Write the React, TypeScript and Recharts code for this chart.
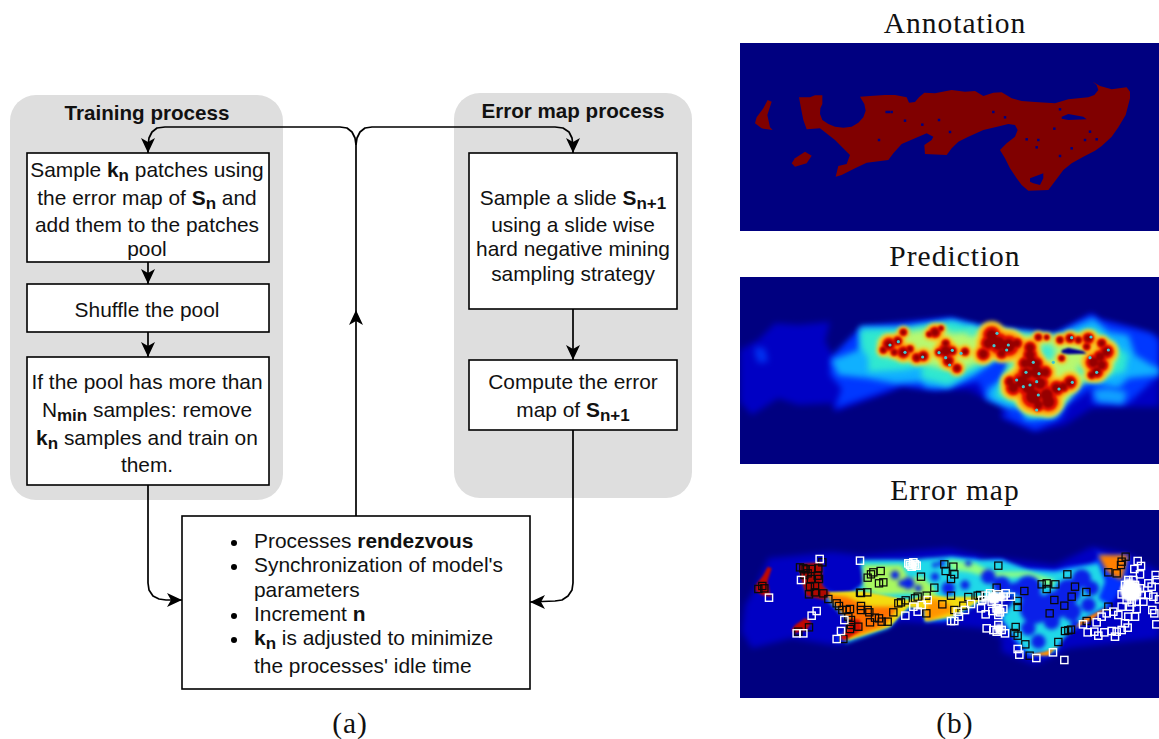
import React from "react";
import { ComposedChart, Scatter, XAxis, YAxis } from "recharts";

type P = number[];
// ---------- picture frames: the crop coordinates the estimates were read in
const toMap = (oy: number) => (pts: P[]) => pts.map(([a, b, r]) => ({ x: 735 + a / 3, y: oy + b / 3, r: (r || 0) / 3 }));
const map1 = toMap(40);
const map2 = toMap(275);
const map3 = toMap(505);

// ---------- flow chart
const panels = [[10, 95, 283, 500], [454, 93, 692, 498]];
const boxes = [
  [27, 153, 269, 262], [27, 284, 269, 332], [27, 357, 269, 485],
  [469, 153, 677, 309], [469, 360, 677, 430], [182, 516, 530, 689],
];
const mapFrames = [[740, 43, 1159, 231], [740, 277, 1159, 464], [740, 510, 1159, 698]];
const wires: P[][] = [
  [[148, 262], [148, 284]],
  [[148, 332], [148, 357]],
  [[573, 309], [573, 360]],
  [[356, 516], [356, 145], [355, 138], [352, 132], [347, 128], [340, 127], [165, 127], [157, 128], [152, 132], [149, 138], [148, 146], [148, 153]],
  [[356, 145], [357, 138], [360, 132], [365, 128], [372, 127], [555, 127], [563, 128], [569, 132], [572, 138], [573, 146], [573, 153]],
  [[148, 485], [148, 583], [149, 590], [153, 596], [159, 599], [166, 600], [182, 600]],
  [[573, 430], [573, 583], [572, 590], [568, 596], [562, 600], [555, 601], [530, 602]],
];
const arrowTips = [
  { x: 148, y: 153, dir: 90 }, { x: 148, y: 284, dir: 90 }, { x: 148, y: 357, dir: 90 },
  { x: 573, y: 153, dir: 90 }, { x: 573, y: 360, dir: 90 }, { x: 356, y: 310, dir: -90 },
  { x: 182, y: 600, dir: 0 }, { x: 530, y: 602, dir: 180 },
];
const bullets = [[234, 543], [234, 567], [234, 616], [234, 640]];

// text: [x, baseline, anchor, segments]; segment kinds: n normal, b bold, s bold subscript, h heading
const boxText: [number, number, string, [string, string][]][] = [
  [147, 120, "middle", [["h", "Training process"]]],
  [573, 118, "middle", [["h", "Error map process"]]],
  [147, 177, "middle", [["n", "Sample "], ["b", "k"], ["s", "n"], ["n", " patches using"]]],
  [147, 205, "middle", [["n", "the error map of "], ["b", "S"], ["s", "n"], ["n", " and"]]],
  [147, 232, "middle", [["n", "add them to the patches"]]],
  [147, 256, "middle", [["n", "pool"]]],
  [147, 317, "middle", [["n", "Shuffle the pool"]]],
  [147, 389, "middle", [["n", "If the pool has more than"]]],
  [147, 417, "middle", [["n", "N"], ["s", "min"], ["n", " samples: remove"]]],
  [147, 445, "middle", [["b", "k"], ["s", "n"], ["n", " samples and train on"]]],
  [147, 472, "middle", [["n", "them."]]],
  [573, 205, "middle", [["n", "Sample a slide "], ["b", "S"], ["s", "n+1"]]],
  [573, 232, "middle", [["n", "using a slide wise"]]],
  [573, 256, "middle", [["n", "hard negative mining"]]],
  [573, 281, "middle", [["n", "sampling strategy"]]],
  [573, 389, "middle", [["n", "Compute the error"]]],
  [573, 417, "middle", [["n", "map of "], ["b", "S"], ["s", "n+1"]]],
  [254, 548, "start", [["n", "Processes "], ["b", "rendezvous"]]],
  [254, 572, "start", [["n", "Synchronization of model's"]]],
  [254, 597, "start", [["n", "parameters"]]],
  [254, 621, "start", [["n", "Increment "], ["b", "n"]]],
  [254, 645, "start", [["b", "k"], ["s", "n"], ["n", " is adjusted to minimize"]]],
  [254, 673, "start", [["n", "the processes' idle time"]]],
];
const captions: [number, number, string][] = [
  [955, 33, "Annotation"], [955, 266, "Prediction"], [955, 500, "Error map"],
  [350, 733, "(a)"], [955, 733, "(b)"],
];

// ---------- annotation outline
const tissueMain: P[] = [[192, 172], [225, 172], [240, 166], [262, 166], [262, 192], [256, 205], [255, 222], [262, 240], [280, 252], [300, 260], [325, 263], [350, 260], [370, 248], [385, 232], [392, 212], [388, 192], [375, 170], [405, 168], [450, 165], [480, 165], [515, 172], [522, 188], [540, 186], [552, 172], [568, 158], [600, 160], [650, 150], [690, 155], [720, 153], [745, 168], [775, 158], [800, 157], [830, 175], [860, 183], [900, 186], [960, 190], [1000, 178], [1060, 172], [1078, 165], [1090, 150], [1085, 135], [1073, 125], [1095, 138], [1130, 148], [1175, 142], [1185, 155], [1185, 175], [1172, 225], [1150, 262], [1130, 290], [1100, 318], [1080, 332], [1045, 350], [1010, 370], [985, 390], [970, 410], [940, 450], [880, 452], [860, 435], [845, 415], [825, 385], [810, 355], [795, 330], [815, 310], [840, 290], [848, 270], [840, 255], [820, 252], [780, 262], [745, 270], [700, 290], [670, 305], [650, 325], [635, 345], [570, 342], [568, 315], [590, 300], [595, 290], [575, 280], [540, 295], [500, 312], [475, 340], [460, 360], [395, 368], [360, 385], [320, 405], [302, 410], [310, 378], [335, 372], [345, 345], [300, 300], [255, 265], [215, 268], [205, 240], [198, 205]];
const tissueLeft: P[] = [[98, 180], [110, 185], [97, 225], [105, 262], [113, 270], [80, 265], [60, 250], [65, 232], [85, 205]];
const tissueLow: P[] = [[210, 335], [230, 347], [215, 370], [180, 380], [170, 370], [180, 355]];
const holeA: P[] = [[980, 230], [1000, 222], [1045, 230], [1055, 238], [1000, 240], [980, 236]];
const holeB: P[] = [[885, 415], [925, 400], [925, 415], [915, 435], [895, 430], [885, 425]];
const pinholes: P[] = [[462, 216], [455, 216], [470, 216], [510, 242], [432, 300], [612, 240], [645, 276], [562, 254], [775, 216], [810, 232], [910, 300], [875, 298], [958, 266], [1010, 325], [1050, 300], [1085, 298], [975, 208], [905, 322], [975, 348], [1065, 275]];

// ---------- prediction levels
const predDim: P[] = [[15, 225], [70, 195], [120, 145], [190, 150], [285, 140], [270, 200], [300, 250], [380, 160], [640, 130], [740, 155], [960, 175], [1070, 115], [1100, 135], [1200, 160], [1272, 190], [1272, 395], [1180, 395], [1070, 400], [990, 450], [900, 470], [800, 430], [800, 385], [750, 370], [700, 345], [600, 345], [500, 335], [440, 360], [300, 410], [290, 385], [190, 390], [130, 370], [50, 420], [15, 380]];
const predBlue: P[] = [[285, 250], [380, 155], [650, 130], [740, 155], [960, 180], [1070, 118], [1090, 135], [1250, 175], [1272, 195], [1272, 300], [1180, 385], [1070, 385], [1070, 340], [1000, 390], [980, 430], [900, 465], [800, 420], [830, 405], [750, 370], [730, 320], [600, 345], [500, 330], [300, 400], [320, 340], [285, 300]];
const predBlueSpot: P[] = [[60, 215], [90, 220], [100, 260], [70, 265], [60, 240]];
const predCyan: P[] = [[290, 255], [370, 225], [375, 155], [500, 160], [650, 135], [740, 155], [960, 180], [1075, 130], [1120, 170], [1180, 180], [1200, 240], [1250, 270], [1272, 280], [1272, 300], [1180, 310], [1150, 340], [1050, 320], [1020, 350], [985, 385], [960, 430], [870, 435], [860, 400], [820, 400], [755, 370], [760, 340], [810, 310], [835, 260], [790, 250], [720, 300], [640, 340], [570, 335], [560, 320], [480, 325], [400, 310], [310, 300]];
const predCyanLow: P[] = [[1075, 345], [1120, 340], [1175, 350], [1165, 388], [1085, 380]];
const predGreen: P[] = [[380, 220], [375, 165], [500, 160], [650, 140], [740, 165], [960, 185], [1080, 160], [1140, 210], [1180, 240], [1170, 290], [1100, 310], [1030, 320], [990, 380], [960, 420], [880, 425], [850, 390], [780, 365], [800, 310], [835, 240], [770, 255], [690, 300], [640, 330], [560, 310], [560, 275], [500, 285], [400, 290], [400, 250]];
const predYellow: P[] = [[430, 195], [520, 170], [620, 155], [650, 175], [720, 170], [860, 180], [960, 185], [1070, 175], [1135, 205], [1145, 250], [1120, 300], [1040, 320], [1000, 370], [950, 420], [890, 415], [850, 380], [800, 350], [805, 310], [850, 235], [760, 248], [680, 285], [620, 280], [560, 265], [430, 240]];
const predCool: P[] = [[935, 232, 26], [1040, 285, 14], [830, 265, 12], [710, 170, 14]];
const predHoleDark: P[] = [[980, 225], [1000, 218], [1045, 228], [1055, 236], [1000, 238], [980, 234]];
const predBlobs: P[] = [[462, 208, 14], [488, 198, 10], [445, 225, 8], [478, 232, 8], [505, 232, 13], [525, 222, 8], [545, 248, 10], [565, 243, 11], [600, 172, 12], [583, 178, 7], [618, 160, 6], [505, 172, 8], [612, 232, 9], [632, 205, 9], [632, 228, 16], [652, 228, 10], [640, 258, 12], [666, 280, 10], [690, 230, 9], [770, 180, 18], [760, 205, 16], [790, 205, 22], [820, 212, 22], [845, 205, 12], [800, 235, 12], [745, 237, 14], [885, 218, 13], [885, 240, 15], [890, 262, 18], [870, 265, 14], [905, 265, 13], [905, 292, 20], [930, 292, 14], [875, 295, 18], [860, 320, 20], [825, 320, 12], [835, 338, 16], [880, 335, 22], [915, 325, 18], [895, 365, 24], [935, 360, 20], [940, 380, 20], [910, 390, 14], [965, 340, 16], [1005, 322, 14], [985, 335, 12], [1060, 190, 12], [1005, 190, 10], [975, 195, 8], [1030, 195, 8], [1100, 205, 10], [1115, 230, 15], [1095, 245, 14], [1075, 262, 16], [1100, 270, 14], [1085, 290, 14], [1070, 300, 9], [910, 187, 8], [935, 187, 6], [1055, 215, 8], [980, 250, 7]];
const predSpots: P[] = [[465, 210], [510, 232], [563, 246], [612, 233], [632, 248], [652, 226], [644, 270], [678, 235], [777, 212], [815, 225], [873, 292], [912, 296], [905, 320], [865, 335], [895, 262], [955, 262], [1012, 322], [972, 342], [1065, 248], [1120, 225], [1085, 292], [1068, 186], [905, 405], [490, 200], [786, 175], [820, 210], [845, 315], [885, 330], [910, 360], [1010, 188]];

// ---------- error map levels
const errDim: P[] = [[30, 300], [60, 250], [100, 160], [200, 150], [290, 140], [380, 150], [640, 130], [760, 155], [960, 180], [1070, 125], [1190, 150], [1272, 200], [1272, 400], [1000, 430], [900, 480], [800, 440], [800, 400], [740, 370], [640, 360], [500, 350], [320, 420], [290, 420], [170, 400], [50, 430], [20, 380]];
const errCyan: P[] = [[375, 165], [520, 165], [650, 155], [730, 165], [800, 165], [880, 195], [960, 200], [1090, 175], [1110, 230], [1090, 280], [1120, 300], [1040, 345], [985, 400], [960, 440], [880, 445], [840, 400], [800, 340], [835, 290], [840, 265], [745, 285], [650, 340], [570, 350], [568, 320], [590, 300], [540, 300], [500, 325], [460, 370], [330, 415], [345, 350], [270, 275], [350, 265], [390, 235]];
const errHoles: P[] = [[480, 210, 13], [520, 235, 18], [600, 215, 12], [640, 250, 20], [690, 240, 14], [760, 215, 22], [800, 240, 26], [880, 250, 38], [900, 310, 46], [960, 300, 42], [1000, 260, 38], [1040, 220, 28], [1010, 320, 28], [880, 370, 22], [910, 410, 22], [840, 250, 18], [1070, 250, 22], [1060, 300, 22], [950, 350, 24], [1020, 360, 14], [620, 175, 10], [700, 175, 9], [600, 180, 8], [500, 235, 10], [550, 250, 10]];
const errGreenA: P[] = [[385, 180], [500, 180], [520, 220], [560, 215], [590, 240], [610, 280], [520, 265], [430, 270], [385, 250]];
const errGreenB: P[] = [[640, 165], [720, 175], [770, 200], [880, 200], [960, 225], [950, 245], [880, 215], [770, 220], [700, 200], [650, 195]];
const errYellow: P[] = [[270, 262], [380, 258], [520, 285], [575, 270], [640, 275], [710, 275], [750, 278], [650, 335], [570, 348], [570, 315], [520, 305], [465, 365], [340, 405], [345, 340]];
const errOrangeA: P[] = [[272, 268], [335, 275], [400, 305], [490, 305], [450, 362], [375, 388], [322, 405], [345, 350]];
const errOrangeB: P[] = [[590, 280], [640, 295], [655, 320], [575, 348], [570, 315]];
const errOrangeC: P[] = [[1090, 150], [1180, 150], [1160, 225], [1130, 210], [1110, 190]];
const errOrangeD: P[] = [[1120, 305], [1040, 345], [1020, 368], [1070, 345]];
const errOrangeE: P[] = [[880, 450], [940, 452], [965, 425], [930, 440]];
const errRedA: P[] = [[192, 177], [262, 171], [262, 240], [285, 265], [270, 285], [215, 273], [205, 245], [195, 205]];
const errRedB: P[] = [[98, 185], [110, 190], [97, 230], [105, 267], [113, 275], [80, 270], [60, 255], [65, 237], [85, 210]];
const errRedC: P[] = [[210, 340], [230, 352], [215, 375], [180, 385], [170, 375], [180, 360]];
const errRedD: P[] = [[345, 340], [375, 345], [380, 375], [330, 405], [315, 400], [340, 370]];

const blackSquares: P[] = [[70, 252], [82, 243], [88, 250], [205, 190], [212, 193], [195, 187], [250, 190], [262, 172], [230, 192], [218, 205], [228, 222], [248, 212], [252, 222], [225, 245], [240, 243], [208, 210], [222, 268], [240, 262], [265, 265], [280, 282], [305, 295], [312, 303], [322, 315], [335, 315], [345, 312], [340, 335], [348, 345], [348, 360], [345, 372], [370, 365], [378, 303], [378, 315], [398, 315], [403, 322], [375, 263], [378, 264], [397, 262], [405, 352], [420, 338], [432, 340], [440, 350], [458, 350], [475, 322], [490, 295], [498, 292], [512, 286], [540, 280], [548, 275], [575, 272], [622, 298], [574, 325], [658, 315], [685, 302], [700, 276], [728, 272], [735, 270], [648, 272], [598, 248], [432, 235], [445, 232], [398, 218], [408, 208], [415, 202], [437, 198], [558, 215], [628, 178], [632, 198], [655, 185], [658, 208], [648, 222], [790, 182], [785, 248], [868, 258], [848, 288], [848, 306], [842, 366], [838, 384], [848, 392], [871, 418], [884, 452], [970, 411], [990, 378], [1000, 376], [1008, 374], [944, 325], [988, 302], [958, 285], [935, 235], [920, 238], [935, 252], [961, 238], [997, 208], [1020, 245], [1010, 275], [1054, 261], [1120, 305], [1120, 202], [1145, 205], [1160, 170], [1158, 180], [1172, 155], [1055, 348], [325, 402], [222, 367], [190, 380]];
const whiteSquares: P[] = [[254, 162], [375, 167], [198, 225], [102, 278], [245, 318], [230, 332], [328, 345], [318, 378], [305, 402], [185, 385], [205, 385], [525, 180], [535, 172], [545, 182], [520, 175], [530, 185], [540, 178], [578, 285], [560, 300], [535, 305], [548, 320], [511, 332], [648, 348], [658, 348], [672, 335], [668, 320], [690, 315], [708, 297], [742, 285], [752, 272], [765, 265], [778, 280], [790, 268], [805, 275], [812, 265], [828, 275], [770, 290], [790, 295], [752, 328], [738, 310], [772, 318], [785, 310], [795, 322], [805, 312], [790, 330], [755, 370], [775, 375], [790, 360], [800, 375], [810, 385], [785, 380], [848, 432], [853, 449], [904, 459], [954, 442], [988, 465], [1044, 358], [1058, 382], [1085, 352], [1078, 380], [1090, 392], [1108, 382], [1130, 378], [1140, 395], [1145, 380], [1160, 375], [1178, 368], [1170, 355], [1100, 335], [1115, 325], [1135, 320], [1150, 330], [1160, 305], [1180, 335], [1205, 312], [1200, 335], [1252, 315], [1258, 325], [1264, 358], [1208, 168], [1218, 183], [1215, 208], [1198, 192], [1180, 225], [1195, 225], [1170, 240], [1185, 245], [1200, 240], [1215, 250], [1160, 268], [1175, 262], [1190, 270], [1205, 262], [1220, 270], [1175, 285], [1190, 292], [1205, 290], [1185, 305], [1240, 235], [1262, 210], [1265, 225], [1250, 245], [1240, 270], [1255, 275], [1272, 283], [1225, 290]];
const whiteCores: P[] = [[790, 316, 17], [1188, 258, 33], [1180, 235, 16], [535, 180, 12], [792, 372, 15], [775, 278, 20], [800, 275, 14], [745, 285, 10]];

// ---------- render helpers
const pathOf = (pts: { x: number; y: number }[]) => "M" + pts.map((p) => `${p.x},${p.y}`).join("L") + "Z";
const noDot = () => <g />;
const polygon = (fill: string) => (p: any) => <path d={pathOf(p.points)} fill={fill} stroke="none" />;
const wire = (p: any) => <path d={"M" + p.points.map((q: any) => `${q.x},${q.y}`).join("L")} fill="none" stroke="#000" strokeWidth={1.7} strokeLinejoin="round" />;
const rectFrom = (fill: string, stroke: string, rx: number, sw: number) => (p: any) => {
  const [a, b] = p.points;
  return <rect x={a.x} y={a.y} width={b.x - a.x} height={b.y - a.y} rx={rx} fill={fill} stroke={stroke} strokeWidth={sw} />;
};
const corners = (r: number[]) => [{ x: r[0], y: r[1] }, { x: r[2], y: r[3] }];
const Arrow = (p: any) => (
  <path transform={`translate(${p.cx},${p.cy}) rotate(${p.payload.dir})`} d="M0,0 L-15,-7 L-11,0 L-15,7 Z" fill="#000" />
);
const circleOf = (fill: string, k: number) => (p: any) => <circle cx={p.cx} cy={p.cy} r={p.payload.r * k} fill={fill} />;
const fixedDot = (fill: string, r: number) => (p: any) => <circle cx={p.cx} cy={p.cy} r={r} fill={fill} />;
const sqDot = (fill: string, s: number) => (p: any) => <rect x={p.cx - s / 2} y={p.cy - s / 2} width={s} height={s} fill={fill} />;
const square = (stroke: string, sw: number) => (p: any) => (
  <rect x={p.cx - 3.6} y={p.cy - 3.6} width={7.2} height={7.2} fill="none" stroke={stroke} strokeWidth={sw} />
);
const fontSizes: Record<string, number> = { n: 20.9, b: 20.9, s: 17, h: 20.6 };
const segTspan = (kind: string, t: string, i: number, prev: string | null) => {
  const sub = kind === "s";
  const dy = sub ? 4 : prev === "s" ? -4 : 0;
  return (
    <tspan key={i} dy={dy} fontWeight={kind === "n" ? 400 : 700} fontSize={fontSizes[kind]}>{t}</tspan>
  );
};
const RichText = (p: any) => {
  const { anchor, segs } = p.payload;
  return (
    <text x={p.cx} y={p.cy} textAnchor={anchor} fontFamily="'Liberation Sans', Arial, sans-serif" fontSize={20.9} fill="#111">
      {segs.map((s: [string, string], i: number) => segTspan(s[0], s[1], i, i ? segs[i - 1][0] : null))}
    </text>
  );
};
const Caption = (p: any) => (
  <text x={p.cx} y={p.cy} textAnchor="middle" fontFamily="'Liberation Serif', serif" fontSize={29.5} letterSpacing={1} fill="#111">{p.payload.t}</text>
);

const Poly = (pts: any[], fill: string, soft = "") => (
  <Scatter data={pts} dataKey="y" line={polygon(fill) as any} shape={noDot as any} className={soft} isAnimationActive={false} legendType="none" />
);
const Dots = (pts: any[], shape: any, soft = "") => (
  <Scatter data={pts} dataKey="y" shape={shape} className={soft} isAnimationActive={false} legendType="none" />
);

export default function App() {
  const layers: React.ReactNode[] = [];
  const add = (n: React.ReactNode) => layers.push(React.cloneElement(n as any, { key: layers.length }));

  panels.forEach((r) => add(<Scatter data={corners(r)} dataKey="y" shape={noDot as any} line={rectFrom("#dedede", "none", 26, 0) as any} isAnimationActive={false} />));
  mapFrames.forEach((r) => add(<Scatter data={corners(r)} dataKey="y" shape={noDot as any} line={rectFrom("#000080", "none", 0, 0) as any} isAnimationActive={false} />));

  // annotation
  add(Poly(map1(tissueMain), "#800000"));
  add(Poly(map1(tissueLeft), "#800000"));
  add(Poly(map1(tissueLow), "#800000"));
  add(Poly(map1(holeA), "#000080"));
  add(Poly(map1(holeB), "#000080"));
  add(Dots(map1(pinholes), sqDot("#000080", 2.5)));

  // prediction
  add(Poly(map2(predDim), "#0000c4", "s3"));
  add(Poly(map2(predBlue), "#0038ff", "s3"));
  add(Poly(map2(predBlueSpot), "#0030f0", "s3"));
  add(Poly(map2(predCyan), "#10b0ff", "s3"));
  add(Poly(map2(predCyanLow), "#10a0ff", "s3"));
  add(Poly(map2(predGreen), "#30e8d0", "s3"));
  add(Poly(map2(predYellow), "#b8f870", "s3"));
  add(Dots(map2(predCool), circleOf("#40e8d0", 1), "s3"));
  add(Dots(map2(predBlobs), circleOf("#f8e030", 2.3), "s2"));
  add(Dots(map2(predBlobs), circleOf("#ff8000", 1.8), "s2"));
  add(Dots(map2(predBlobs), circleOf("#e41000", 1.4), "s1"));
  add(Dots(map2(predBlobs), circleOf("#960000", 0.9), "s1"));
  add(Dots(map2(predSpots), fixedDot("#40c8d0", 1.6)));
  add(Poly(map2(predHoleDark), "#000090", "s1"));

  // error map
  add(Poly(map3(errDim), "#0000c4", "s3"));
  add(Poly(map3(tissueMain.map(([a, b]) => [a, b + 5])), "#0030ff", "s2"));
  add(Poly(map3(errCyan), "#20d8e8", "s2"));
  add(Poly(map3(errGreenA), "#a8f860", "s2"));
  add(Poly(map3(errGreenB), "#90ff80", "s2"));
  add(Poly(map3(errYellow), "#f4dc10", "s1"));
  add(Dots(map3(errHoles), circleOf("#0a20e8", 1), "s2"));
  add(Poly(map3(errOrangeA), "#ff7000", "s2"));
  add(Poly(map3(errOrangeB), "#ff9400", "s2"));
  add(Poly(map3(errOrangeC), "#ff8000", "s2"));
  add(Poly(map3(errOrangeD), "#ff8000", "s1"));
  add(Poly(map3(errOrangeE), "#ff9000", "s1"));
  add(Poly(map3(errRedA), "#b00800", "s1"));
  add(Poly(map3(errRedB), "#c00800", "s1"));
  add(Poly(map3(errRedC), "#c00800", "s1"));
  add(Poly(map3(errRedD), "#d81000", "s1"));
  add(Dots(map3(whiteCores), circleOf("#ffffff", 1), "s1"));
  add(Dots(map3(blackSquares), square("#0a0a0a", 1.25)));
  add(Dots(map3(whiteSquares), square("#ffffff", 1.4)));

  // blur spill left of the maps
  mapFrames.forEach((r) => add(<Scatter data={corners([r[0] - 14, r[1], r[0], r[3]])} dataKey="y" shape={noDot as any} line={rectFrom("#fff", "none", 0, 0) as any} isAnimationActive={false} />));

  // flow chart
  boxes.forEach((r) => add(<Scatter data={corners(r)} dataKey="y" shape={noDot as any} line={rectFrom("#fff", "#000", 0, 1.6) as any} isAnimationActive={false} />));
  wires.forEach((w) => add(<Scatter data={w.map(([x, y]) => ({ x, y }))} dataKey="y" shape={noDot as any} line={wire as any} isAnimationActive={false} />));
  add(Dots(arrowTips, Arrow));
  add(Dots(bullets.map(([x, y]) => ({ x, y })), fixedDot("#000", 3)));
  add(Dots(boxText.map(([x, y, anchor, segs]) => ({ x, y, anchor, segs })), RichText));
  add(Dots(captions.map(([x, y, t]) => ({ x, y, t })), Caption));

  return (
    <div style={{ position: "absolute", left: 0, top: 0, width: 1159, height: 739, overflow: "hidden", background: "#fff" }}>
      <style>{`.s1{filter:blur(1px)}.s2{filter:blur(2px)}.s3{filter:blur(3px)}.s4{filter:blur(4px)}`}</style>
      <ComposedChart width={1159} height={739} margin={{ top: 0, right: 0, bottom: 0, left: 0 }} data={[]}>
        <XAxis type="number" dataKey="x" domain={[0, 1159]} hide />
        <YAxis type="number" dataKey="y" domain={[0, 739]} reversed hide />
        {layers}
      </ComposedChart>
    </div>
  );
}
